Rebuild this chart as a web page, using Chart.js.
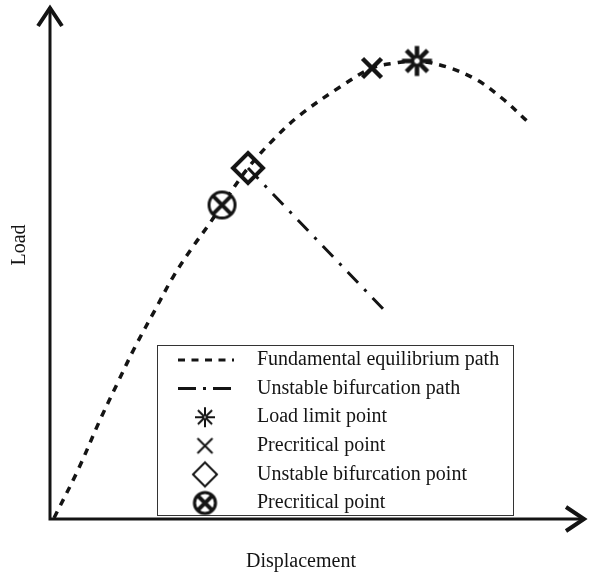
<!DOCTYPE html>
<html>
<head>
<meta charset="utf-8">
<script src="https://cdn.jsdelivr.net/npm/chart.js@4"></script>
<style>
  html, body { margin: 0; padding: 0; background: #fff; }
</style>
</head>
<body>
<canvas id="loadChart" width="594" height="576"></canvas>
<script>
// --- 1. Data (axis units 0..100) ---
const pathX = [0.75, 5.22, 9.33, 12.69, 15.86, 19.59, 22.95, 26.49, 29.85, 32.09, 36.94, 41.98, 46.64, 54.10, 60.07, 64.37, 68.47, 74.07, 79.66, 84.51, 88.99];
const pathY = [0.19, 9.55, 19.30, 26.71, 33.53, 40.74, 47.17, 52.83, 57.70, 61.21, 68.42, 74.27, 78.75, 84.21, 87.91, 88.89, 89.28, 88.11, 85.58, 81.87, 77.58];

const branchX = [36.94, 62.87];
const branchY = [68.42, 40.16];

const limitPoint = { x: 68.47, y: 89.28 };
const precritPoint = { x: 60.07, y: 87.91 };
const bifurcPoint = { x: 36.94, y: 68.42 };
const precritPoint2 = { x: 32.09, y: 61.21 };

const legendLabels = [
  'Fundamental equilibrium path',
  'Unstable bifurcation path',
  'Load limit point',
  'Precritical point',
  'Unstable bifurcation point',
  'Precritical point'
];
const xTitle = 'Displacement';
const yTitle = 'Load';

const INK = '#141414';
const SERIF = '"Liberation Serif", "DejaVu Serif", serif';

// --- 2. Marker images ---
function markerCanvas(kind, r, lw) {
  const c = document.createElement('canvas');
  const s = Math.ceil(2 * r + lw + 4);
  c.width = c.height = s;
  const g = c.getContext('2d');
  g.translate(s / 2, s / 2);
  g.strokeStyle = INK;
  g.lineWidth = lw;
  g.beginPath();
  if (kind === 'asterisk') {
    for (let i = 0; i < 8; i++) {
      const a = i * Math.PI / 4;
      g.moveTo(0, 0);
      g.lineTo(r * Math.cos(a), r * Math.sin(a));
    }
    g.stroke();
    g.beginPath();
    g.arc(0, 0, lw * 0.7, 0, Math.PI * 2);
    g.fillStyle = '#fff';
    g.fill();
    g.lineWidth = 1;
    g.stroke();
  } else if (kind === 'cross') {
    g.moveTo(-r, -r); g.lineTo(r, r);
    g.moveTo(-r, r); g.lineTo(r, -r);
    g.stroke();
  } else if (kind === 'diamond') {
    g.lineJoin = 'miter';
    g.moveTo(0, -r); g.lineTo(r, 0); g.lineTo(0, r); g.lineTo(-r, 0);
    g.closePath();
    g.stroke();
  } else if (kind === 'otimes') {
    g.arc(0, 0, r, 0, Math.PI * 2);
    g.fillStyle = '#fff';
    g.fill();
    g.stroke();
    const d = r * 0.68;
    g.beginPath();
    g.lineWidth = lw * 1.3;
    g.moveTo(-d, -d); g.lineTo(d, d);
    g.moveTo(-d, d); g.lineTo(d, -d);
    g.stroke();
  }
  return c;
}

const plotMarks = {
  asterisk: markerCanvas('asterisk', 15, 4.5),
  cross: markerCanvas('cross', 9.5, 4.5),
  diamond: markerCanvas('diamond', 15, 4),
  otimes: markerCanvas('otimes', 13, 3)
};
const legendMarks = {
  asterisk: markerCanvas('asterisk', 10, 2),
  cross: markerCanvas('cross', 7.5, 2),
  diamond: markerCanvas('diamond', 12, 2),
  otimes: markerCanvas('otimes', 10.5, 3.2)
};

// --- 3. Axes, arrows, titles and legend box ---
const frame = {
  id: 'frame',
  afterDraw(chart) {
    const ctx = chart.ctx;
    const a = chart.chartArea;
    ctx.save();
    ctx.strokeStyle = INK;
    ctx.fillStyle = INK;

    // axes
    ctx.lineWidth = 3;
    ctx.beginPath();
    ctx.moveTo(a.left, a.top + 1);
    ctx.lineTo(a.left, a.bottom);
    ctx.lineTo(a.right - 1, a.bottom);
    ctx.stroke();

    // open arrow heads
    ctx.lineWidth = 4;
    ctx.beginPath();
    ctx.moveTo(a.left - 12, a.top + 20);
    ctx.lineTo(a.left, a.top + 2);
    ctx.lineTo(a.left + 12, a.top + 20);
    ctx.moveTo(a.right - 20, a.bottom - 12);
    ctx.lineTo(a.right - 2, a.bottom);
    ctx.lineTo(a.right - 20, a.bottom + 12);
    ctx.stroke();

    // titles
    ctx.font = '20px ' + SERIF;
    ctx.textAlign = 'center';
    ctx.textBaseline = 'middle';
    ctx.fillText(xTitle, 301, 562);
    ctx.save();
    ctx.translate(20, 245);
    ctx.rotate(-Math.PI / 2);
    ctx.fillText(yTitle, 0, 0);
    ctx.restore();

    // legend box
    const box = { x: 157.5, y: 345.5, w: 356, h: 170 };
    ctx.fillStyle = '#fff';
    ctx.fillRect(box.x, box.y, box.w, box.h);
    ctx.lineWidth = 1;
    ctx.strokeStyle = '#333';
    ctx.strokeRect(box.x, box.y, box.w, box.h);

    const symX = 205, x0 = 178, x1 = 233;
    const rowY = i => 360 + i * 28.6;
    ctx.strokeStyle = INK;
    ctx.fillStyle = INK;

    // dashed path sample
    ctx.lineWidth = 3;
    ctx.setLineDash([7, 6.5]);
    ctx.beginPath();
    ctx.moveTo(x0, rowY(0)); ctx.lineTo(x1 + 1, rowY(0));
    ctx.stroke();
    // dash-dot sample
    ctx.setLineDash([18, 7, 3, 7]);
    ctx.beginPath();
    ctx.moveTo(x0, rowY(1)); ctx.lineTo(x1, rowY(1));
    ctx.stroke();
    ctx.setLineDash([]);

    const keys = ['asterisk', 'cross', 'diamond', 'otimes'];
    keys.forEach((k, j) => {
      const img = legendMarks[k];
      ctx.drawImage(img, symX - img.width / 2, rowY(j + 2) - img.height / 2);
    });

    ctx.font = '20px ' + SERIF;
    ctx.textAlign = 'left';
    ctx.textBaseline = 'middle';
    legendLabels.forEach((t, i) => ctx.fillText(t, 257, rowY(i)));
    ctx.restore();
  }
};

// --- 4. Chart ---
const ctx = document.getElementById('loadChart').getContext('2d');
const loadChart = new Chart(ctx, {
  type: 'scatter',
  data: {
    datasets: [
      { label: legendLabels[2], data: [limitPoint], pointStyle: plotMarks.asterisk, order: 0 },
      { label: legendLabels[3], data: [precritPoint], pointStyle: plotMarks.cross, order: 0 },
      { label: legendLabels[4], data: [bifurcPoint], pointStyle: plotMarks.diamond, order: 0 },
      { label: legendLabels[5], data: [precritPoint2], pointStyle: plotMarks.otimes, order: 0 },
      {
        label: legendLabels[0],
        data: pathX.map((x, i) => ({ x, y: pathY[i] })),
        showLine: true, borderColor: INK, borderWidth: 3.5,
        borderDash: [7, 7], pointRadius: 0, tension: 0.35, order: 2
      },
      {
        label: legendLabels[1],
        data: branchX.map((x, i) => ({ x, y: branchY[i] })),
        showLine: true, borderColor: INK, borderWidth: 3,
        borderDash: [15, 9, 3, 9], pointRadius: 0, order: 1
      }
    ]
  },
  options: {
    responsive: false,
    animation: false,
    devicePixelRatio: 1,
    layout: { padding: { left: 50, right: 8, top: 6, bottom: 57 } },
    scales: {
      x: { type: 'linear', min: 0, max: 100, display: false },
      y: { type: 'linear', min: 0, max: 100, display: false }
    },
    plugins: {
      legend: { display: false },
      tooltip: { enabled: false }
    }
  },
  plugins: [frame]
});
</script>
</body>
</html>
